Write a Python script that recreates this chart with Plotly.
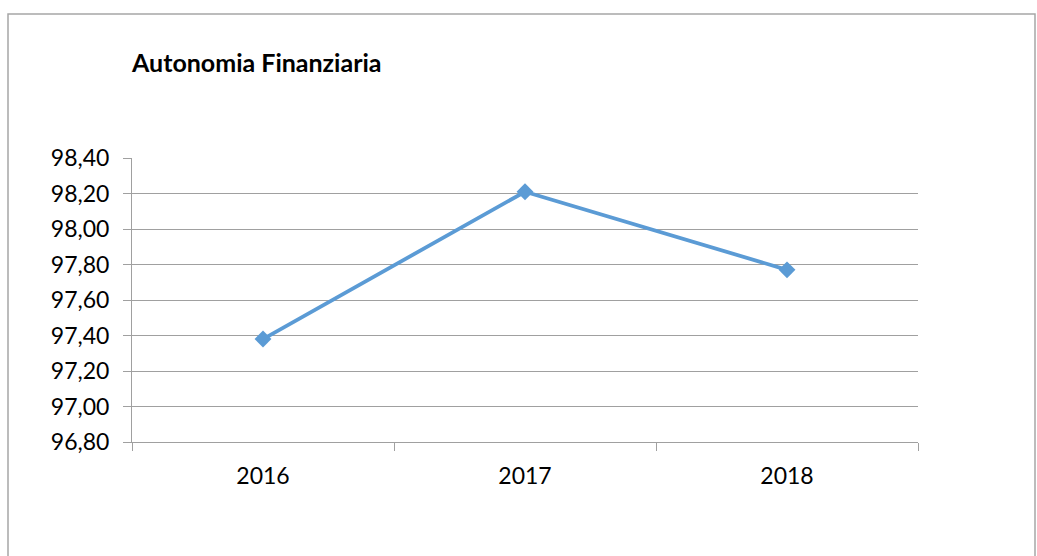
import plotly.graph_objects as go

years = ["2016", "2017", "2018"]
values = [97.38, 98.21, 97.77]
y_ticks = [96.8, 97.0, 97.2, 97.4, 97.6, 97.8, 98.0, 98.2, 98.4]

W, H = 1037, 556
L, R, T, B = 132, 918, 158, 442
pw, ph = R - L, B - T

def px_x(x):
    return (x - L) / pw

def px_y(y):
    return (B - y) / ph

fig = go.Figure()
fig.add_trace(go.Scatter(
    x=years, y=values, mode="lines+markers",
    line=dict(color="#5B9BD5", width=3.8),
    marker=dict(symbol="diamond", size=13, color="#5B9BD5"),
    cliponaxis=False, showlegend=False,
))

grid = "#A0A0A0"
fig.update_layout(
    width=W, height=H,
    margin=dict(l=L, r=W - R, t=T, b=H - B, pad=0),
    paper_bgcolor="white", plot_bgcolor="white",
    separators=",.",
    font=dict(family="Lato", size=23, color="black"),
    xaxis=dict(
        type="category", tickson="boundaries", ticks="outside", ticklen=8,
        tickcolor=grid, showgrid=False, showline=True, linecolor=grid, linewidth=1,
        range=[-0.5, 2.5], ticklabelstandoff=13,
    ),
    yaxis=dict(
        range=[96.8, 98.4], tickvals=y_ticks, tickformat=".2f",
        ticks="outside", ticklen=8, tickcolor=grid, showgrid=True, gridcolor=grid,
        gridwidth=1, showline=True, linecolor=grid, linewidth=1, zeroline=False,
        ticklabelstandoff=9,
    ),
    shapes=[dict(
        type="rect", xref="paper", yref="paper",
        x0=px_x(8), x1=px_x(1035), y0=px_y(575), y1=px_y(14),
        line=dict(color="#A6A6A6", width=1.5), fillcolor="rgba(0,0,0,0)", layer="below",
    )],
    annotations=[dict(
        text="<b>Autonomia Finanziaria</b>", xref="paper", yref="paper",
        x=px_x(129), y=px_y(62), xanchor="left", yanchor="middle",
        showarrow=False, font=dict(family="Lato", size=25, color="black"),
    )],
)

fig.write_html("out.html", config={"displayModeBar": False},
               post_script="document.body.style.margin='0';")
